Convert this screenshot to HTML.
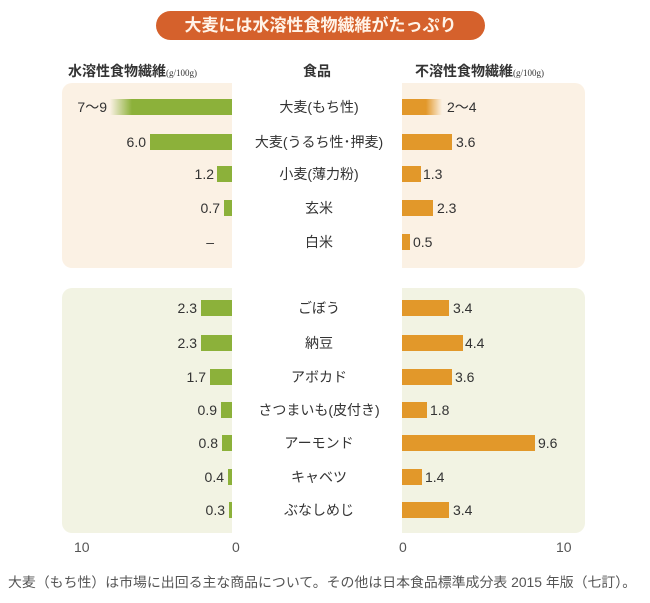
<!DOCTYPE html>
<html><head><meta charset="utf-8"><style>
body{margin:0;width:650px;height:603px;background:#fff;position:relative;overflow:hidden;font-family:"Liberation Sans","Noto Sans CJK JP",sans-serif;color:#333}
.a{position:absolute;white-space:nowrap}
.p{position:absolute;border-radius:10px}
.g{position:absolute;height:16px;background:#8cb13a}
.o{position:absolute;height:16px;background:#e2982a}
.lv{position:absolute;font-size:14px;text-align:right;width:50px;transform:translateY(-50%)}
.rv{position:absolute;font-size:14px;transform:translateY(-50%)}
.c{position:absolute;left:236px;width:166px;text-align:center;font-size:14px;transform:translateY(-50%)}
</style></head><body>
<div class="a" style="left:156px;top:11px;width:329px;height:29px;border-radius:15px;background:#d5612c;color:#fff3e8;font-size:17px;font-weight:bold;text-align:center;line-height:29px">大麦には水溶性食物繊維がたっぷり</div>
<div class="a" style="left:68px;top:61px;font-size:14px;font-weight:bold">水溶性食物繊維<span style="font-size:9px;font-family:'Liberation Serif',serif;font-weight:normal">(g/100g)</span></div>
<div class="a" style="left:303px;top:61px;font-size:14px;font-weight:bold">食品</div>
<div class="a" style="left:415px;top:61px;font-size:14px;font-weight:bold">不溶性食物繊維<span style="font-size:9px;font-family:'Liberation Serif',serif;font-weight:normal">(g/100g)</span></div>

<div class="p" style="left:62px;top:83px;width:190px;height:185px;background:#fbf1e4"></div>
<div class="p" style="left:382px;top:83px;width:203px;height:185px;background:#fbf1e4"></div>
<div class="p" style="left:62px;top:288px;width:190px;height:245px;background:#f2f3e3"></div>
<div class="p" style="left:382px;top:288px;width:203px;height:245px;background:#f2f3e3"></div>
<div class="a" style="left:232px;top:80px;width:170px;height:460px;background:#fff"></div>

<div class="g" style="left:110px;width:122px;top:99px;background:linear-gradient(to right,rgba(140,177,58,0),#8cb13a 18%)"></div>
<div class="lv" style="left:57px;top:107px">7〜9</div>
<div class="c" style="top:107px">大麦(もち性)</div>
<div class="o" style="left:402px;width:40px;top:99px;background:linear-gradient(to right,#e2982a 60%,rgba(226,152,42,0))"></div>
<div class="rv" style="left:447px;top:107px">2〜4</div>

<div class="g" style="left:150px;width:82px;top:134px"></div>
<div class="lv" style="left:96px;top:142px">6.0</div>
<div class="c" style="top:142px">大麦(うるち性･押麦)</div>
<div class="o" style="left:402px;width:50px;top:134px"></div>
<div class="rv" style="left:456px;top:142px">3.6</div>

<div class="g" style="left:217px;width:15px;top:166px"></div>
<div class="lv" style="left:164px;top:174px">1.2</div>
<div class="c" style="top:174px">小麦(薄力粉)</div>
<div class="o" style="left:402px;width:19px;top:166px"></div>
<div class="rv" style="left:423px;top:174px">1.3</div>

<div class="g" style="left:224px;width:8px;top:200px"></div>
<div class="lv" style="left:170px;top:208px">0.7</div>
<div class="c" style="top:208px">玄米</div>
<div class="o" style="left:402px;width:31px;top:200px"></div>
<div class="rv" style="left:437px;top:208px">2.3</div>

<div class="lv" style="left:164px;top:242px">–</div>
<div class="c" style="top:242px">白米</div>
<div class="o" style="left:402px;width:8px;top:234px"></div>
<div class="rv" style="left:413px;top:242px">0.5</div>

<div class="g" style="left:201px;width:31px;top:300px"></div>
<div class="lv" style="left:147px;top:308px">2.3</div>
<div class="c" style="top:308px">ごぼう</div>
<div class="o" style="left:402px;width:47px;top:300px"></div>
<div class="rv" style="left:453px;top:308px">3.4</div>

<div class="g" style="left:201px;width:31px;top:335px"></div>
<div class="lv" style="left:147px;top:343px">2.3</div>
<div class="c" style="top:343px">納豆</div>
<div class="o" style="left:402px;width:61px;top:335px"></div>
<div class="rv" style="left:465px;top:343px">4.4</div>

<div class="g" style="left:210px;width:22px;top:369px"></div>
<div class="lv" style="left:156px;top:377px">1.7</div>
<div class="c" style="top:377px">アボカド</div>
<div class="o" style="left:402px;width:50px;top:369px"></div>
<div class="rv" style="left:455px;top:377px">3.6</div>

<div class="g" style="left:221px;width:11px;top:402px"></div>
<div class="lv" style="left:167px;top:410px">0.9</div>
<div class="c" style="top:410px">さつまいも(皮付き)</div>
<div class="o" style="left:402px;width:25px;top:402px"></div>
<div class="rv" style="left:430px;top:410px">1.8</div>

<div class="g" style="left:222px;width:10px;top:435px"></div>
<div class="lv" style="left:168px;top:443px">0.8</div>
<div class="c" style="top:443px">アーモンド</div>
<div class="o" style="left:402px;width:133px;top:435px"></div>
<div class="rv" style="left:538px;top:443px">9.6</div>

<div class="g" style="left:228px;width:4px;top:469px"></div>
<div class="lv" style="left:174px;top:477px">0.4</div>
<div class="c" style="top:477px">キャベツ</div>
<div class="o" style="left:402px;width:20px;top:469px"></div>
<div class="rv" style="left:425px;top:477px">1.4</div>

<div class="g" style="left:229px;width:3px;top:502px"></div>
<div class="lv" style="left:175px;top:510px">0.3</div>
<div class="c" style="top:510px">ぶなしめじ</div>
<div class="o" style="left:402px;width:47px;top:502px"></div>
<div class="rv" style="left:453px;top:510px">3.4</div>

<div class="a" style="left:74px;top:539px;font-size:14px;color:#555">10</div>
<div class="a" style="left:232px;top:539px;font-size:14px;color:#555">0</div>
<div class="a" style="left:399px;top:539px;font-size:14px;color:#555">0</div>
<div class="a" style="left:556px;top:539px;font-size:14px;color:#555">10</div>

<div class="a" style="left:8px;top:572px;font-size:13.9px;color:#555">大麦（もち性）は市場に出回る主な商品について。その他は日本食品標準成分表 2015 年版（七訂）。</div>
</body></html>
